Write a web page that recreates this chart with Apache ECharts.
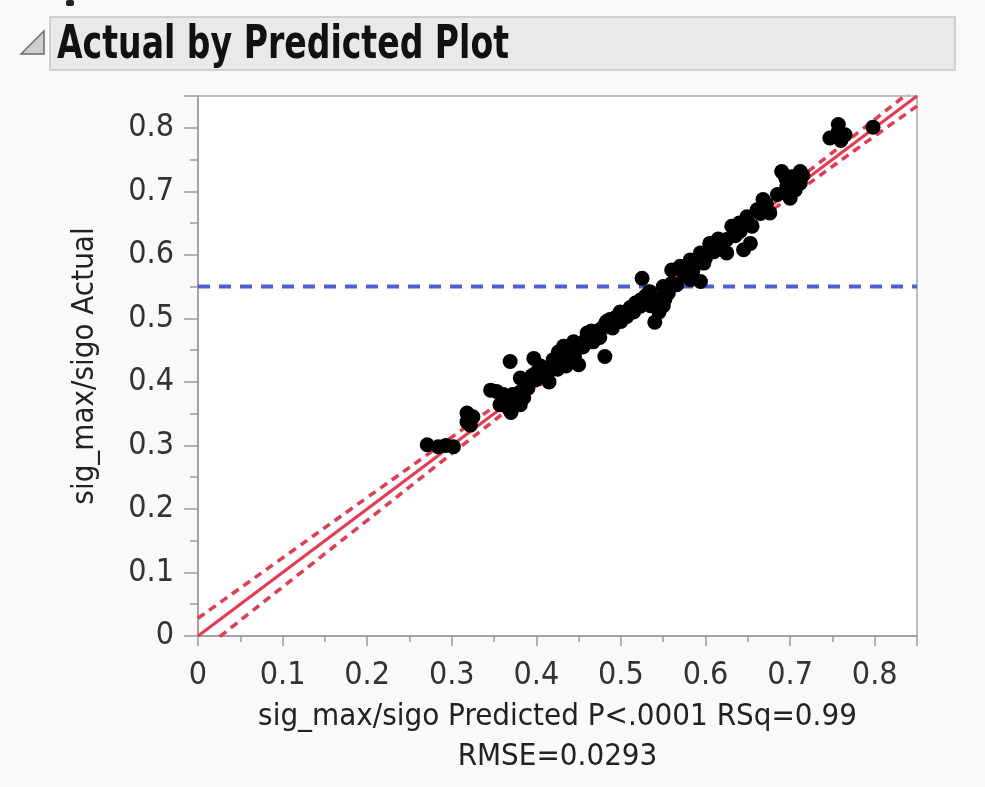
<!DOCTYPE html>
<html>
<head>
<meta charset="utf-8">
<script src="https://cdn.jsdelivr.net/npm/echarts@6/dist/echarts.min.js"></script>
<style>
html,body{margin:0;padding:0;background:#f9f9f9;}
#c{width:985px;height:787px;}
</style>
</head>
<body>
<div id="c"></div>
<script>
// ---- data ----
const predicted = [
  0.271,0.284,0.302,0.293,0.318,0.318,0.322,0.353,0.346,0.361,
  0.357,0.367,0.375,0.381,0.381,0.387,0.370,0.369,0.399,0.401,
  0.411,0.416,0.408,0.381,0.397,0.420,0.422,0.426,0.428,0.434,
  0.432,0.440,0.446,0.444,0.450,0.458,0.460,0.467,0.464,0.470,
  0.475,0.483,0.481,0.481,0.487,0.493,0.499,0.505,0.507,0.511,
  0.517,0.523,0.523,0.529,0.534,0.540,0.545,0.550,0.552,0.556,
  0.525,0.550,0.566,0.560,0.570,0.582,0.594,0.582,0.598,0.594,
  0.605,0.617,0.625,0.625,0.631,0.641,0.645,0.653,0.649,0.661,
  0.676,0.668,0.700,0.706,0.696,0.712,0.702,0.690,0.712,0.747,
  0.757,0.765,0.757,0.798,
  0.385,0.390,0.395,0.405,0.415,0.425,0.430,0.435,0.445,0.455,
  0.465,0.475,0.490,0.500,0.515,0.530,0.535,0.545,0.555,0.560,
  0.575,0.585,0.600,0.610,0.615,0.635,0.640,0.655,0.665,0.672,
  0.685,0.695,0.705,0.715,0.760,0.365,0.372,0.325
];
const actual = [
  0.301,0.298,0.298,0.300,0.351,0.337,0.332,0.385,0.387,0.380,
  0.364,0.359,0.372,0.384,0.364,0.395,0.352,0.432,0.403,0.416,
  0.406,0.419,0.419,0.406,0.437,0.435,0.435,0.447,0.430,0.454,
  0.456,0.438,0.450,0.463,0.427,0.466,0.477,0.463,0.474,0.469,
  0.482,0.495,0.490,0.440,0.498,0.501,0.510,0.506,0.503,0.517,
  0.524,0.519,0.529,0.535,0.542,0.494,0.510,0.520,0.530,0.540,
  0.563,0.550,0.553,0.576,0.582,0.561,0.558,0.592,0.587,0.603,
  0.618,0.613,0.603,0.624,0.645,0.637,0.608,0.618,0.660,0.671,
  0.666,0.687,0.689,0.702,0.708,0.713,0.723,0.731,0.731,0.784,
  0.805,0.789,0.794,0.801,
  0.375,0.390,0.410,0.425,0.400,0.420,0.440,0.425,0.440,0.455,
  0.480,0.470,0.485,0.495,0.510,0.525,0.520,0.530,0.545,0.555,
  0.570,0.575,0.595,0.605,0.625,0.630,0.650,0.645,0.665,0.680,
  0.695,0.720,0.715,0.725,0.780,0.370,0.380,0.345
];
// fit line and confidence bands
const fitX = [0, 0.85];
const fitY = [0, 0.85];
const bandX     = [0,     0.1,   0.2,   0.3,   0.4,   0.5,   0.55,  0.6,   0.7,   0.8,   0.85];
const bandUpper = [0.028, 0.123, 0.218, 0.313, 0.409, 0.505, 0.554, 0.605, 0.709, 0.813, 0.866];
const bandLower = [-0.028,0.077, 0.182, 0.287, 0.391, 0.495, 0.546, 0.595, 0.691, 0.787, 0.834];
const meanLevel = 0.55;
const axisMin = 0, axisMax = 0.85;
const majorStep = 0.1, minorStep = 0.05;
const titleText = 'Actual by Predicted Plot';
const xTitle = 'sig_max/sigo Predicted P<.0001 RSq=0.99\nRMSE=0.0293';
const yTitle = 'sig_max/sigo Actual';

// ---- chart ----
const FONT = '"Liberation Sans Narrow","DejaVu Sans Condensed","Liberation Sans",sans-serif';
const chart = echarts.init(document.getElementById('c'), null, {renderer: 'canvas'});

const pts = predicted.map((p, i) => [p, actual[i]]);
const zip = (a, b) => a.map((v, i) => [v, b[i]]);

function labelFmt(v) {
  if (v > 0.8 + 1e-9) return '';
  return String(Math.round(v * 10) / 10);
}

const majorAxisCommon = {
  type: 'value', min: axisMin, max: axisMax, interval: majorStep,
  axisLine: {show: true, lineStyle: {color: '#9a9a9a', width: 1.5}},
  splitLine: {show: false},
  axisLabel: {formatter: labelFmt, color: '#333', fontFamily: FONT, fontSize: 32},
};
const minorAxisCommon = {
  type: 'value', min: axisMin, max: axisMax, interval: minorStep,
  axisLine: {show: false}, splitLine: {show: false},
  axisLabel: {show: false}
};

chart.setOption({
  backgroundColor: '#f9f9f9',
  animation: false,
  grid: {left: 198, right: 68, top: 96, bottom: 151, show: true,
         backgroundColor: '#ffffff', borderColor: '#a8a8a8', borderWidth: 1.5},
  xAxis: [
    Object.assign({}, majorAxisCommon, {
      position: 'bottom',
      axisTick: {show: true, length: 10, lineStyle: {color: '#9a9a9a', width: 1.5}},
      axisLabel: Object.assign({}, majorAxisCommon.axisLabel, {margin: 24}),
      name: xTitle, nameLocation: 'middle', nameGap: 61,
      nameTextStyle: {fontFamily: FONT, fontSize: 31, color: '#222', lineHeight: 40}
    }),
    Object.assign({}, minorAxisCommon, {
      position: 'bottom',
      axisTick: {show: true, length: 6, lineStyle: {color: '#9a9a9a', width: 1.5}}
    })
  ],
  yAxis: [
    Object.assign({}, majorAxisCommon, {
      position: 'left',
      axisTick: {show: true, length: 14, lineStyle: {color: '#9a9a9a', width: 1.5}},
      axisLabel: Object.assign({}, majorAxisCommon.axisLabel, {margin: 24}),
      name: yTitle, nameLocation: 'middle', nameGap: 98,
      nameTextStyle: {fontFamily: FONT, fontSize: 31, color: '#222'}
    }),
    Object.assign({}, minorAxisCommon, {
      position: 'left',
      axisTick: {show: true, length: 8, lineStyle: {color: '#9a9a9a', width: 1.5}}
    })
  ],
  graphic: [
    {type: 'rect', shape: {x: 50, y: 17, width: 905, height: 53},
     style: {fill: '#e9e9e9', stroke: '#c4c4c4', lineWidth: 1.5}, z: 1},
    {type: 'polygon', shape: {points: [[21, 54], [44, 54], [44, 31]]},
     style: {fill: '#cfcfcf', stroke: '#6a6a6a', lineWidth: 1.5}, z: 2},
    {type: 'text', x: 57, y: 23, scaleX: 0.8, z: 3,
     style: {text: titleText, fontFamily: FONT, fontWeight: 'bold', fontSize: 46, fill: '#111',
             verticalAlign: 'top'}},
    {type: 'rect', shape: {x: 66, y: 0, width: 8, height: 6, r: 2},
     style: {fill: '#222'}, z: 3}
  ],
  series: [
    {type: 'line', name: 'mean', data: zip(bandX, bandX.map(() => meanLevel)), symbol: 'none',
     lineStyle: {color: '#4e5fd6', width: 4, type: [12, 9]}, z: 2, clip: true},
    {type: 'line', name: 'upper', data: zip(bandX, bandUpper), symbol: 'none', smooth: true,
     lineStyle: {color: '#e8394f', width: 3.5, type: [8, 6]}, z: 3, clip: true},
    {type: 'line', name: 'lower', data: zip(bandX, bandLower), symbol: 'none', smooth: true,
     lineStyle: {color: '#e8394f', width: 3.5, type: [8, 6]}, z: 3, clip: true},
    {type: 'line', name: 'fit', data: zip(fitX, fitY), symbol: 'none',
     lineStyle: {color: '#e8394f', width: 3}, z: 3, clip: true},
    {type: 'scatter', name: 'points', data: pts, symbol: 'circle', symbolSize: 15,
     itemStyle: {color: '#000', opacity: 1}, z: 5}
  ]
});
</script>
</body>
</html>
